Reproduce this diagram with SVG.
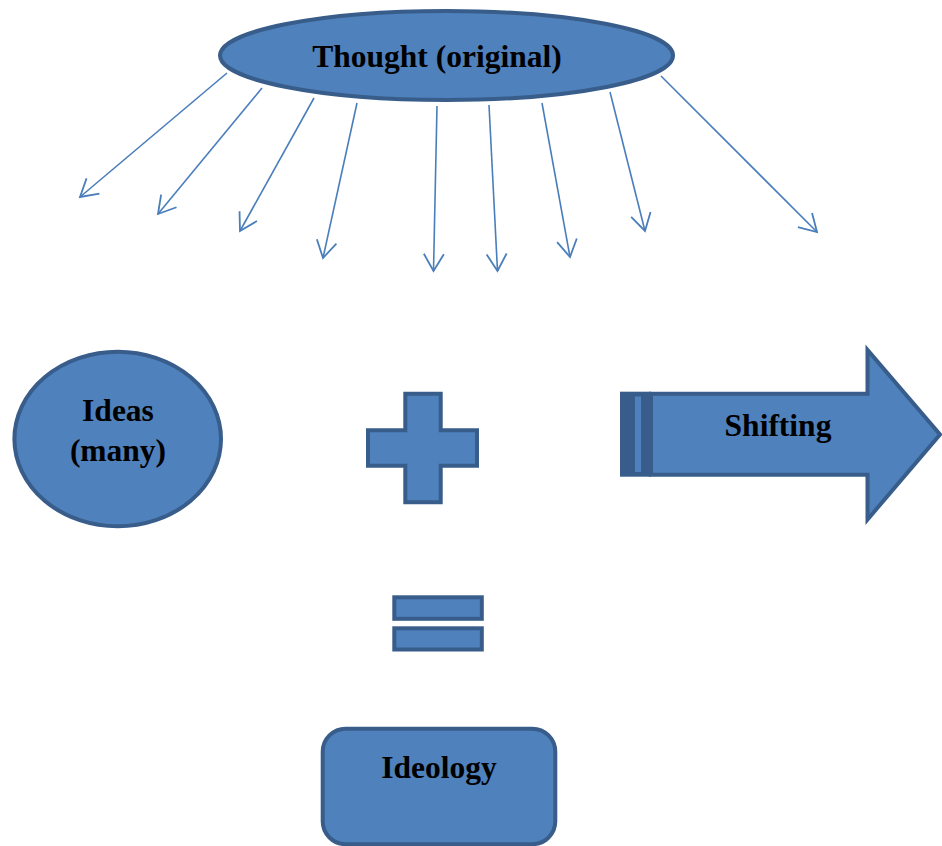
<svg xmlns="http://www.w3.org/2000/svg" width="942" height="846" viewBox="0 0 942 846">
<style>
.shape{fill:#4F81BD;stroke:#385D8A;stroke-width:4}
.lbl{font-family:"Liberation Serif","Times New Roman",serif;font-weight:bold;font-size:31.5px;fill:#000;text-anchor:middle}
.conn{stroke:#4A7EBB;stroke-width:1.6;fill:none;marker-end:url(#vh)}
</style>
<defs>
<marker id="vh" markerUnits="userSpaceOnUse" markerWidth="30" markerHeight="30" refX="0" refY="0" orient="auto" overflow="visible" viewBox="-20 -15 30 30">
<path d="M-17,-10 L0,0 L-17,10" fill="none" stroke="#4A7EBB" stroke-width="1.8"/>
</marker>
</defs>
<rect width="942" height="846" fill="#fff"/>
<g id="connectors">
<line class="conn" x1="227" y1="73" x2="80" y2="197"/>
<line class="conn" x1="262" y1="88" x2="158" y2="214"/>
<line class="conn" x1="314" y1="98" x2="240" y2="231"/>
<line class="conn" x1="357" y1="103" x2="323" y2="258"/>
<line class="conn" x1="437" y1="106" x2="433.5" y2="271"/>
<line class="conn" x1="489" y1="105" x2="497.5" y2="271"/>
<line class="conn" x1="542" y1="103" x2="570" y2="257"/>
<line class="conn" x1="610" y1="92" x2="645" y2="231"/>
<line class="conn" x1="661" y1="76" x2="817" y2="232"/>
</g>
<g id="thought">
<ellipse class="shape" cx="446.5" cy="55.5" rx="226.5" ry="44.5"/>
<text class="lbl" x="437" y="67">Thought (original)</text>
</g>
<g id="ideas">
<ellipse class="shape" cx="117.7" cy="439" rx="103.3" ry="87.3" stroke-width="3.5"/>
<text class="lbl" x="118" y="421">Ideas</text>
<text class="lbl" x="118" y="461">(many)</text>
</g>
<g id="plus">
<path class="shape" d="M405.3,393.7 H440.7 V430.3 H477 V465.7 H440.7 V502.3 H405.3 V465.7 H368 V430.3 H405.3 Z"/>
</g>
<g id="shifting">
<rect x="620" y="391.7" width="31" height="85" fill="#385D8A"/>
<rect x="635" y="396.5" width="6" height="75.5" fill="#4F81BD"/>
<path class="shape" d="M651,393.7 H867.5 V350 L940,434.5 L867.5,519.5 V474.7 H651 Z"/>
<text class="lbl" x="778" y="435.5">Shifting</text>
</g>
<g id="equals">
<rect class="shape" x="394.3" y="597.3" width="87.5" height="21.5" stroke-width="4.5"/>
<rect class="shape" x="394.3" y="628.3" width="87.5" height="21.2" stroke-width="4.5"/>
</g>
<g id="ideology">
<rect class="shape" x="322.7" y="728.7" width="232.6" height="115.5" rx="23" ry="23"/>
<text class="lbl" x="439" y="778">Ideology</text>
</g>
</svg>
